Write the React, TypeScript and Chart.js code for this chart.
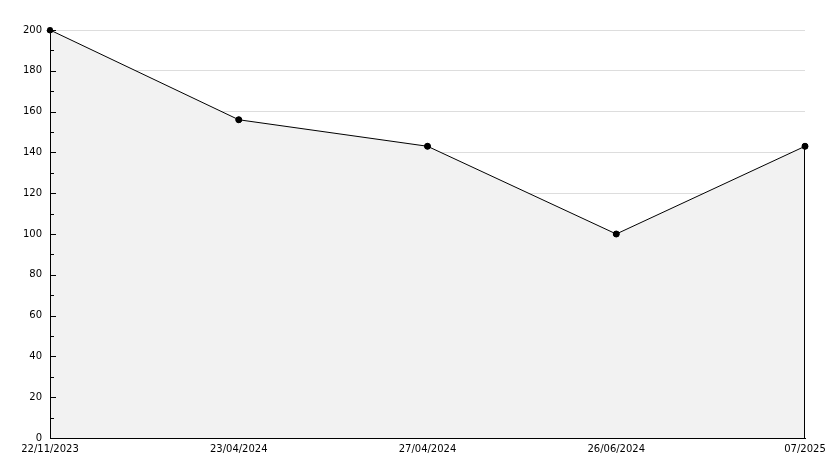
import React, { useEffect, useRef } from "react";
import { Chart, registerables } from "chart.js";

Chart.register(...registerables);

const categories = ["22/11/2023", "23/04/2024", "27/04/2024", "26/06/2024", "07/2025"];
const values = [200, 156, 143, 100, 143];
const yMin = 0;
const yMax = 200;
const yStep = 20;
const yMinorStep = 10;

const tickPlugin = {
  id: "insideTicks",
  afterDatasetsDraw(chart: any) {
    const ctx = chart.ctx;
    const y = chart.scales.y;
    const area = chart.chartArea;
    ctx.save();
    ctx.strokeStyle = "#000";
    ctx.lineWidth = 1;
    const lx = Math.round(area.left) + 0.5;
    const by = Math.round(area.bottom) + 0.5;
    // axes
    ctx.beginPath();
    ctx.moveTo(lx, Math.round(area.top));
    ctx.lineTo(lx, by);
    ctx.lineTo(Math.round(area.right) + 1, by);
    ctx.stroke();
    for (let v = yMin; v <= yMax; v += yMinorStep) {
      const py = Math.round(y.getPixelForValue(v)) + 0.5;
      const len = v % yStep === 0 ? 6 : 4;
      ctx.beginPath();
      ctx.moveTo(area.left, py);
      ctx.lineTo(area.left + len, py);
      ctx.stroke();
    }
    // right edge of filled area
    const meta = chart.getDatasetMeta(0);
    const last = meta.data[meta.data.length - 1];
    if (last) {
      const px = Math.round(last.x) - 0.5;
      ctx.beginPath();
      ctx.moveTo(px, last.y);
      ctx.lineTo(px, area.bottom);
      ctx.stroke();
    }
    // redraw points on top
    ctx.fillStyle = "#000";
    for (const p of meta.data) {
      ctx.beginPath();
      ctx.arc(p.x, p.y, 3, 0, Math.PI * 2);
      ctx.fill();
    }
    ctx.restore();
  },
};

export default function App() {
  const ref = useRef<HTMLCanvasElement | null>(null);
  useEffect(() => {
    if (!ref.current) return;
    const chart = new Chart(ref.current, {
      type: "line",
      data: {
        labels: categories,
        datasets: [
          {
            data: values,
            borderColor: "#000",
            borderWidth: 1,
            backgroundColor: "#f2f2f2",
            fill: "origin",
            tension: 0,
            pointRadius: 3,
            pointBackgroundColor: "#000",
            pointBorderColor: "#000",
            pointBorderWidth: 1,
          },
        ],
      },
      options: {
        animation: false,
        responsive: false,
        maintainAspectRatio: false,
        layout: { padding: { top: 30, right: 29, left: 0, bottom: 0 } },
        plugins: { legend: { display: false }, tooltip: { enabled: false } },
        scales: {
          x: {
            offset: false,
            grid: { display: false, drawTicks: false },
            border: { display: true, color: "#000", width: 1 },
            ticks: {
              color: "#000",
              font: { family: "DejaVu Sans", size: 10 },
              padding: 5,
              maxRotation: 0,
              autoSkip: false,
            },
            afterFit: (s: any) => {
              s.height = 30;
            },
          },
          y: {
            min: yMin,
            max: yMax,
            grid: { color: "#dddddd", drawTicks: false, lineWidth: 1 },
            border: { display: true, color: "#000", width: 1 },
            ticks: {
              stepSize: yStep,
              color: "#000",
              font: { family: "DejaVu Sans", size: 10 },
              padding: 8,
            },
            afterFit: (s: any) => {
              s.width = 50;
            },
          },
        },
      },
      plugins: [tickPlugin],
    });
    return () => chart.destroy();
  }, []);
  return (
    <div style={{ position: "absolute", left: 0, top: 0, width: 834, height: 468, background: "#fff" }}>
      <canvas ref={ref} width={834} height={468} style={{ width: 834, height: 468 }} />
    </div>
  );
}
